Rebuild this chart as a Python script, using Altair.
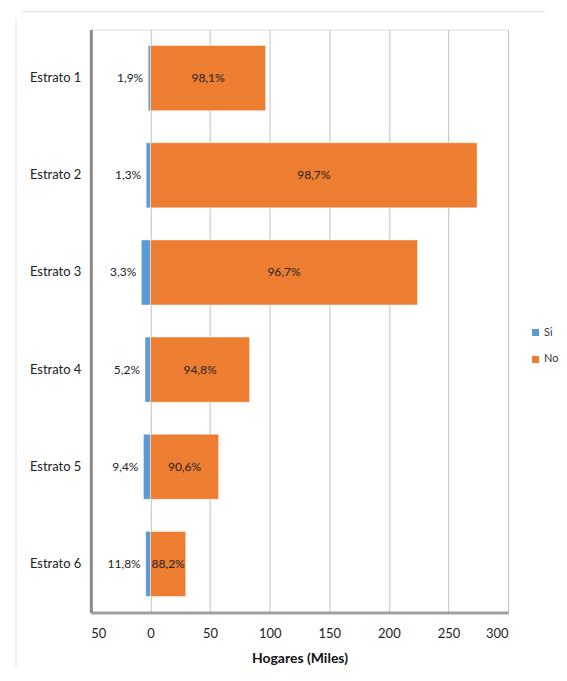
import altair as alt
import pandas as pd

categories = ["Estrato 1", "Estrato 2", "Estrato 3", "Estrato 4", "Estrato 5", "Estrato 6"]
si_values = [1.9, 3.6, 7.7, 4.6, 5.9, 4.0]
no_values = [96.6, 274.0, 224.0, 83.2, 57.2, 29.6]
si_labels = ["1,9%", "1,3%", "3,3%", "5,2%", "9,4%", "11,8%"]
no_labels = ["98,1%", "98,7%", "96,7%", "94,8%", "90,6%", "88,2%"]
tick_values = [-50, 0, 50, 100, 150, 200, 250, 300]

rows = []
for c, s, n, sl, nl in zip(categories, si_values, no_values, si_labels, no_labels):
    rows.append({"cat": c, "serie": "Si", "start": -s, "end": 0, "lab": sl, "mid": -s})
    rows.append({"cat": c, "serie": "No", "start": 0, "end": n, "lab": nl, "mid": n / 2})
df = pd.DataFrame(rows)

W, H = 418, 584
FONT = "Lato"

y_enc = alt.Y("cat:N", sort=categories, title=None,
              scale=alt.Scale(paddingInner=0.33, paddingOuter=0.165),
              axis=alt.Axis(ticks=False, labelPadding=10, labelFontSize=13, labelColor="#222",
                            labelFont=FONT, domainColor="#8a8a8a", domainWidth=3, grid=False))
x_scale = alt.Scale(domain=[-50, 300], nice=False, zero=False)

bars = alt.Chart(df).mark_bar(stroke="white", strokeWidth=0.8, strokeOpacity=0.6).encode(
    x=alt.X("start:Q", scale=x_scale, title="Hogares (Miles)",
            axis=alt.Axis(values=tick_values, labelExpr="format(abs(datum.value), 'd')",
                          ticks=False, labelPadding=15, labelFontSize=13, labelColor="#222",
                          labelFont=FONT, titleFont=FONT, titleFontSize=14, titleFontWeight="bold",
                          titleColor="#111", titlePadding=11, grid=True, gridColor="#c0c0c0",
                          gridWidth=1, domainColor="#a0a0a0", domainWidth=3)),
    x2="end:Q",
    y=y_enc,
    color=alt.Color("serie:N", scale=alt.Scale(domain=["Si", "No"], range=["#5B9BD5", "#ED7D31"]),
                    legend=alt.Legend(title=None, orient="none", legendX=440, legendY=298,
                                      padding=0, symbolType="square", symbolSize=50,
                                      symbolStrokeWidth=0, labelFontSize=11, labelFont=FONT,
                                      labelColor="#333", rowPadding=15, labelOffset=3)),
)

si_text = alt.Chart(df[df.serie == "Si"]).mark_text(align="right", dx=-5, fontSize=12,
                                                    font=FONT, color="#222").encode(
    x=alt.X("mid:Q", scale=x_scale), y=alt.Y("cat:N", sort=categories), text="lab:N")
no_text = alt.Chart(df[df.serie == "No"]).mark_text(align="center", fontSize=12,
                                                    font=FONT, color="#222").encode(
    x=alt.X("mid:Q", scale=x_scale), y=alt.Y("cat:N", sort=categories), text="lab:N")

frame_left = alt.Chart(pd.DataFrame({"a": [0]})).mark_rule(color="#e2e2e2", strokeWidth=1).encode(
    x=alt.value(-75), y=alt.value(-12), y2=alt.value(640))
frame_top = alt.Chart(pd.DataFrame({"a": [0]})).mark_rule(color="#e2e2e2", strokeWidth=1).encode(
    x=alt.value(-69), x2=alt.value(455), y=alt.value(-18))

chart = alt.layer(bars, si_text, no_text, frame_left, frame_top).properties(
    width=W, height=H, padding={"left": 7, "top": 2, "right": 0, "bottom": 0}
).configure_view(stroke=None).configure(background="white")

chart.save("out.html", embed_options={"renderer": "svg", "actions": False})
